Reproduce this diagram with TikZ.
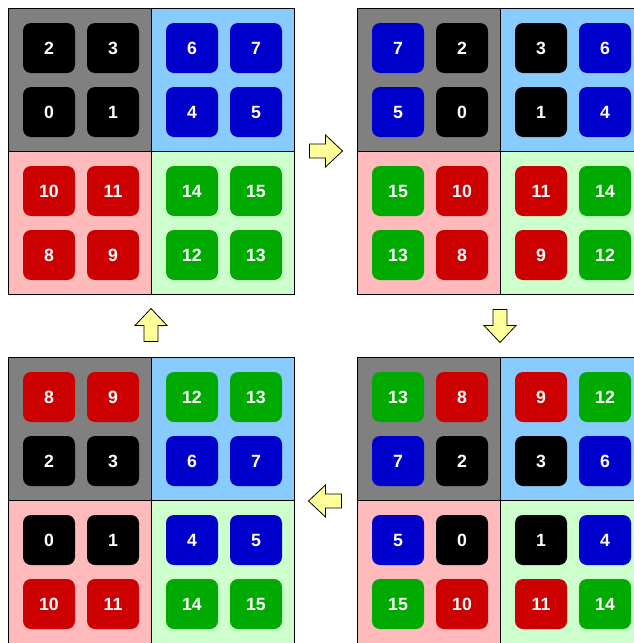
\documentclass[tikz,border=0pt]{standalone}
\usepackage{fontspec}
\setmainfont{Liberation Sans}
\usetikzlibrary{positioning,calc}

\definecolor{quadgrey}{HTML}{808080}
\definecolor{quadblue}{HTML}{88CCFF}
\definecolor{quadpink}{HTML}{FFBBBB}
\definecolor{quadgreen}{HTML}{CCFFCC}
\definecolor{tileblue}{HTML}{0000CC}
\definecolor{tilered}{HTML}{CC0000}
\definecolor{tilegreen}{HTML}{00AA00}
\definecolor{arrowfill}{HTML}{FFFF99}

\tikzset{
  tile/.style={rounded corners=8pt, minimum width=52pt, minimum height=50pt, inner sep=0pt,
    text=white, font=\fontsize{17.7}{20}\selectfont\bfseries},
  flow/.style={draw=black, fill=arrowfill, line width=0.8pt, line join=miter},
}

% one 2x2 board: x, y, name, 16 numbers row by row
\newcommand{\board}[4]{
  \fill[quadgrey] (#1,#2) rectangle ++(143,143);
  \fill[quadblue] (#1+143,#2) rectangle ++(143,143);
  \fill[quadpink] (#1,#2+143) rectangle ++(143,143);
  \fill[quadgreen] (#1+143,#2+143) rectangle ++(143,143);
  \draw[line width=1pt] (#1,#2) rectangle ++(286,286);
  \draw[line width=1pt] (#1+143,#2) -- ++(0,286);
  \draw[line width=1pt] (#1,#2+143) -- ++(286,0);
  \foreach \n [count=\i from 0] in {#4} {
    \pgfmathtruncatemacro\col{mod(\i,4)}
    \pgfmathtruncatemacro\row{div(\i,4)}
    \pgfmathtruncatemacro\grp{div(\n,4)}
    \pgfmathsetmacro\tx{#1+41+64*mod(\col,2)+143*div(\col,2)}
    \pgfmathsetmacro\ty{#2+40+64*mod(\row,2)+143*div(\row,2)}
    \edef\tcol{\ifcase\grp black\or tileblue\or tilered\or tilegreen\fi}
    \node[tile, fill=\tcol] (#3-\n) at (\tx,\ty) {\n};
  }
}

% block arrow: centre x, centre y, angle
\newcommand{\flowarrow}[3]{
  \draw[flow, shift={(#1,#2)}, rotate=#3]
    (-16,-7) -- (0,-7) -- (0,-16) -- (17,0) -- (0,16) -- (0,7) -- (-16,7) -- cycle;
}

\begin{document}
\begin{tikzpicture}[x=1pt, y=-1pt]
  \useasboundingbox (0,0) rectangle (634,643);
  \clip (0,0) rectangle (634,643);

  % Boards
  \board{8}{8}{pa}{2,3,6,7,0,1,4,5,10,11,14,15,8,9,12,13}
  \board{357}{8}{pb}{7,2,3,6,5,0,1,4,15,10,11,14,13,8,9,12}
  \board{357}{357}{pc}{13,8,9,12,7,2,3,6,5,0,1,4,15,10,11,14}
  \board{8}{357}{pd}{8,9,12,13,2,3,6,7,0,1,4,5,10,11,14,15}

  % Arrows between boards
  \flowarrow{325.5}{151}{0}
  \flowarrow{500}{325.5}{-90}
  \flowarrow{325.5}{501}{180}
  \flowarrow{151}{325.5}{90}
\end{tikzpicture}
\end{document}
